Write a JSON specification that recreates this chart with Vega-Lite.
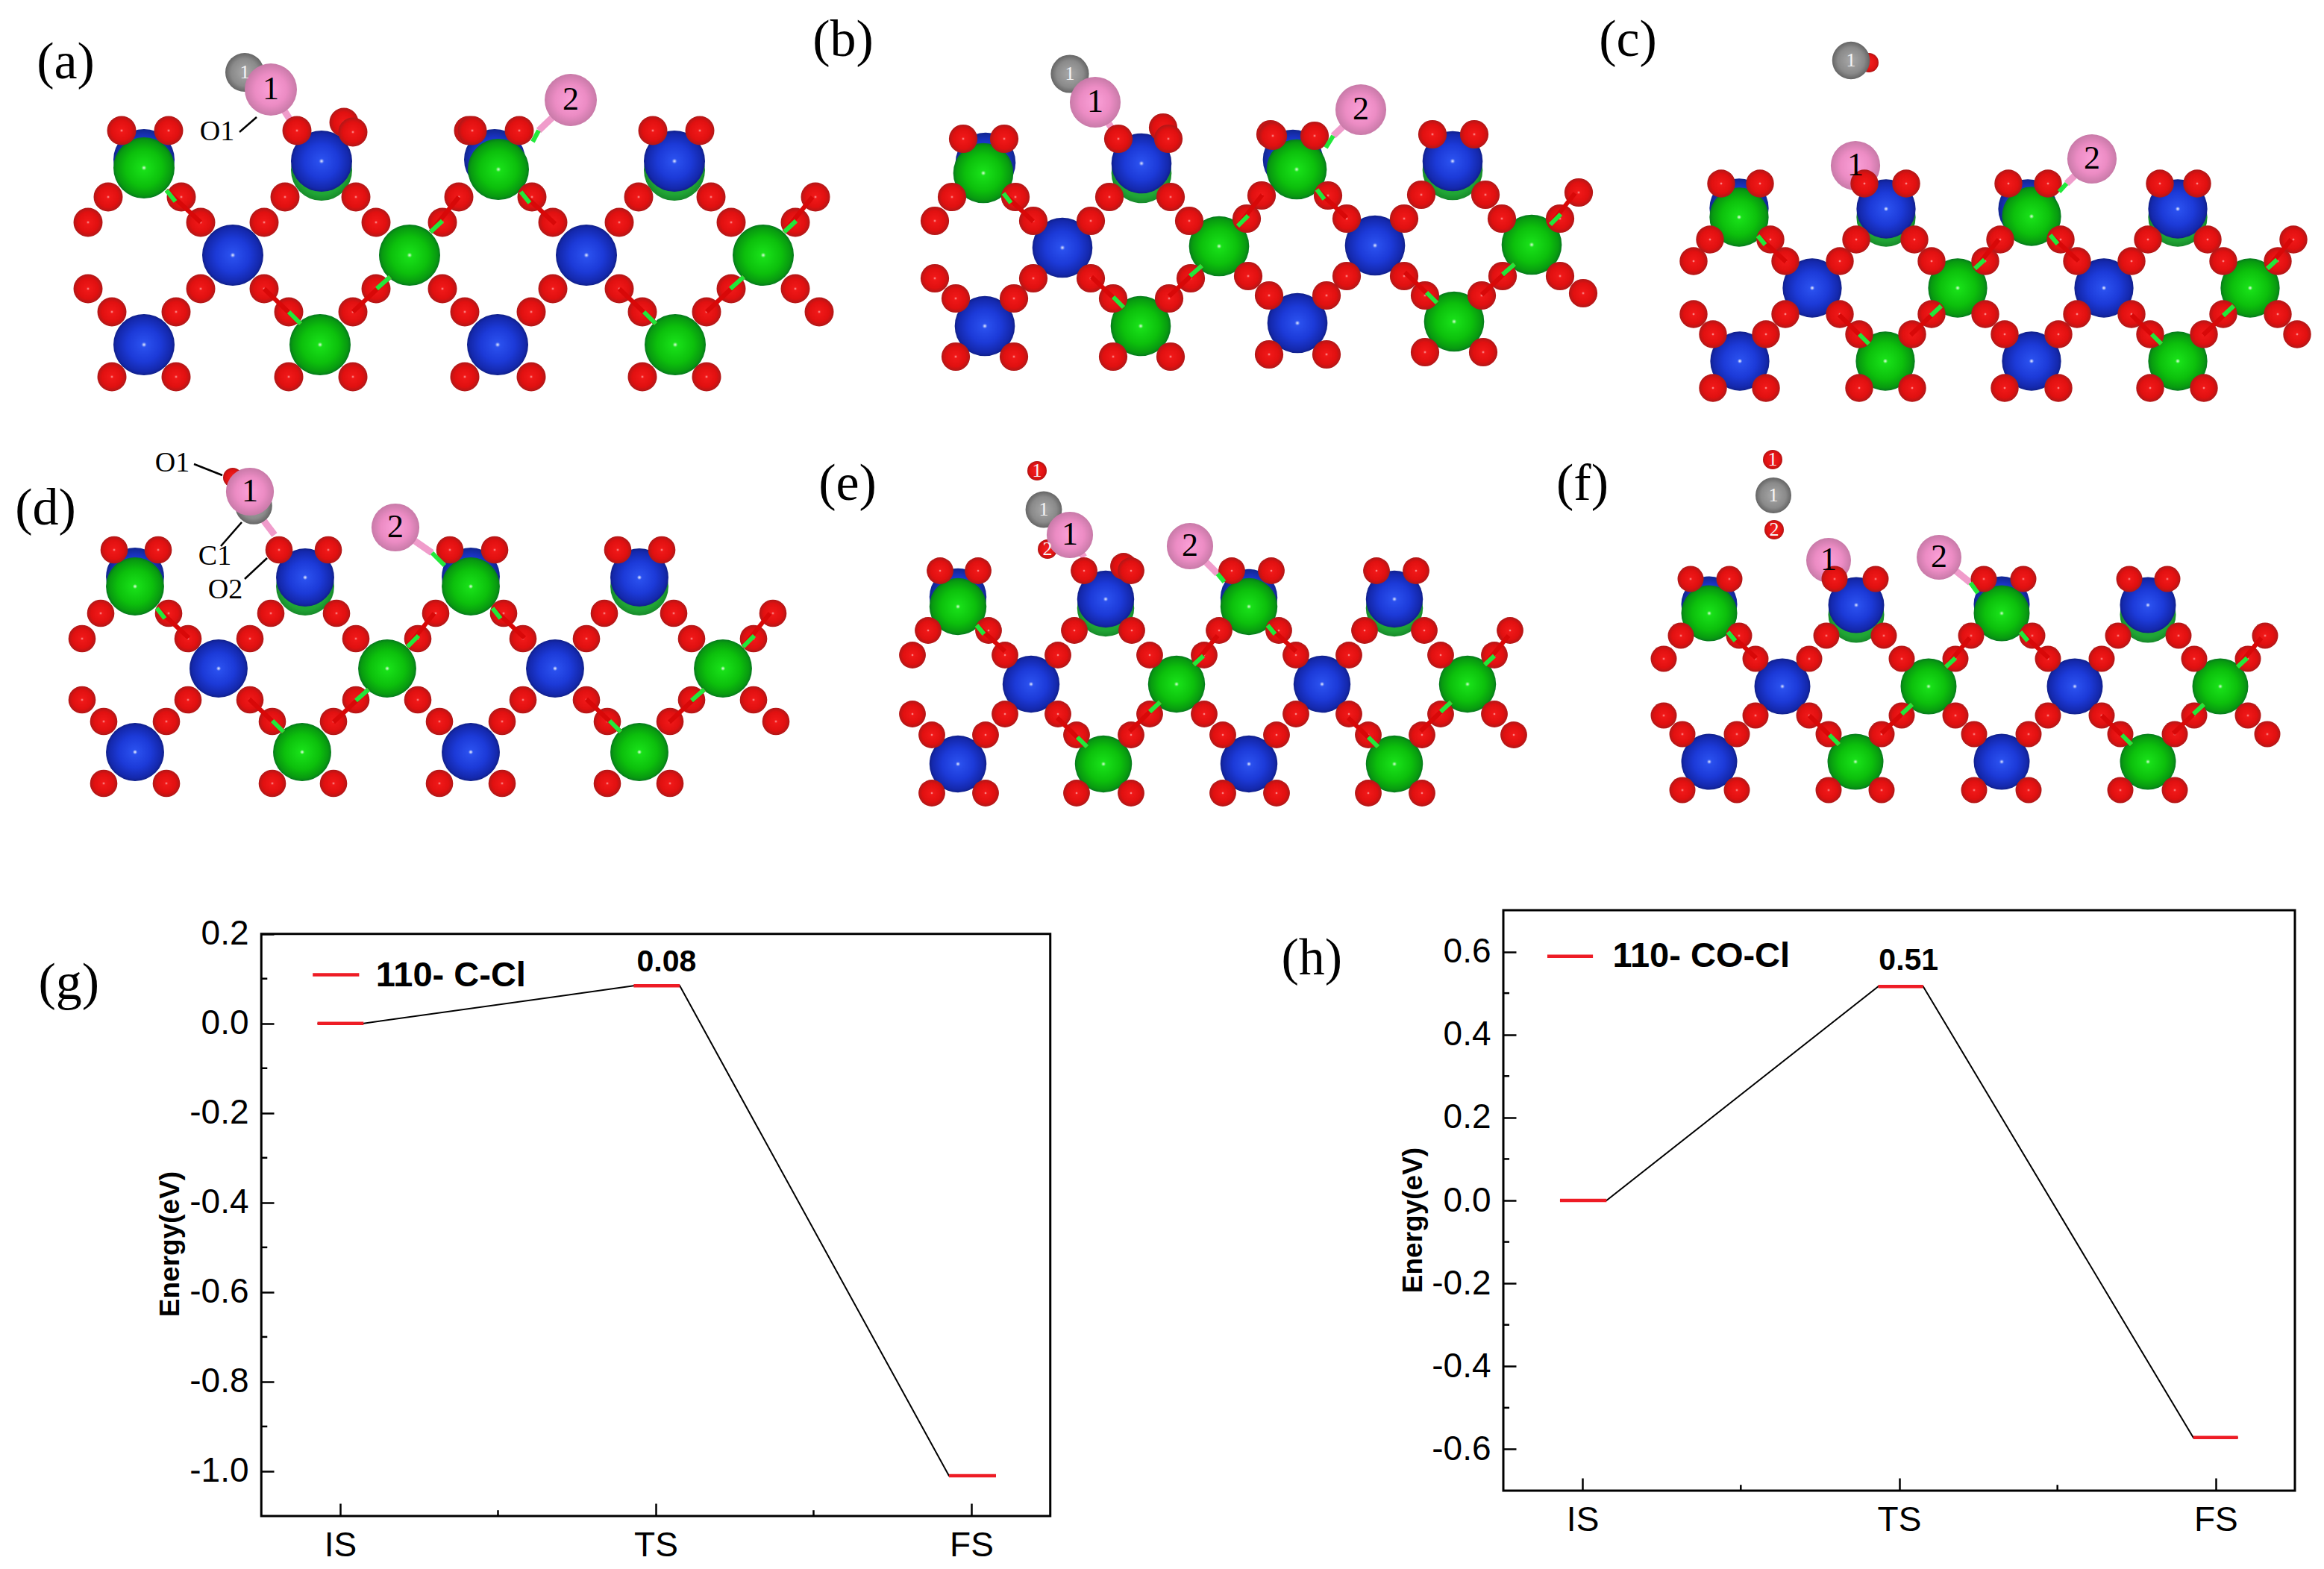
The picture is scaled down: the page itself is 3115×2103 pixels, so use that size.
{
"$schema":"https://vega.github.io/schema/vega-lite/v6.json",
"description":"Adsorption structures (a)-(f) and reaction energy profiles (g), (h).",
"padding":0,
"background":"white",
"bounds":"flush",
"columns":2,
"spacing":{"row":0,"column":606},
"config":{"view":{"stroke":null}},
"datasets":{
"metals":[
{"p":"a","k":"blueBack","x":193,"y":214},{"p":"a","k":"blueBack","x":663,"y":214},{"p":"a","k":"greenBack","x":431,"y":228},{"p":"a","k":"greenBack","x":904,"y":228},
{"p":"a","k":"blue","x":193,"y":462},{"p":"a","k":"blue","x":667,"y":462},{"p":"a","k":"blue","x":312,"y":342},{"p":"a","k":"blue","x":786,"y":342},{"p":"a","k":"blue","x":431,"y":216},{"p":"a","k":"blue","x":904,"y":216},
{"p":"a","k":"green","x":429,"y":462},{"p":"a","k":"green","x":905,"y":462},{"p":"a","k":"green","x":549,"y":342},{"p":"a","k":"green","x":1023,"y":342},{"p":"a","k":"green","x":193,"y":225},{"p":"a","k":"green","x":668,"y":227},
{"p":"b","k":"blueBack","x":1321,"y":218},{"p":"b","k":"blueBack","x":1733,"y":214},{"p":"b","k":"greenBack","x":1530,"y":232},{"p":"b","k":"greenBack","x":1947,"y":228},
{"p":"b","k":"blue","x":1320,"y":437},{"p":"b","k":"blue","x":1739,"y":433},{"p":"b","k":"blue","x":1424,"y":332},{"p":"b","k":"blue","x":1843,"y":329},{"p":"b","k":"blue","x":1530,"y":219},{"p":"b","k":"blue","x":1947,"y":216},
{"p":"b","k":"green","x":1529,"y":437},{"p":"b","k":"green","x":1949,"y":431},{"p":"b","k":"green","x":1634,"y":330},{"p":"b","k":"green","x":2053,"y":328},{"p":"b","k":"green","x":1318,"y":232},{"p":"b","k":"green","x":1738,"y":227},
{"p":"c","k":"blueBack","x":2331,"y":279},{"p":"c","k":"blueBack","x":2718,"y":280},{"p":"c","k":"greenBack","x":2528,"y":291},{"p":"c","k":"greenBack","x":2919,"y":291},
{"p":"c","k":"blue","x":2332,"y":484},{"p":"c","k":"blue","x":2723,"y":484},{"p":"c","k":"blue","x":2429,"y":386},{"p":"c","k":"blue","x":2820,"y":386},{"p":"c","k":"blue","x":2528,"y":280},{"p":"c","k":"blue","x":2919,"y":280},
{"p":"c","k":"green","x":2527,"y":484},{"p":"c","k":"green","x":2919,"y":484},{"p":"c","k":"green","x":2624,"y":386},{"p":"c","k":"green","x":3016,"y":386},{"p":"c","k":"green","x":2331,"y":291},{"p":"c","k":"green","x":2723,"y":290},
{"p":"d","k":"blueBack","x":181,"y":773},{"p":"d","k":"blueBack","x":631,"y":773},{"p":"d","k":"greenBack","x":409,"y":786},{"p":"d","k":"greenBack","x":857,"y":786},
{"p":"d","k":"blue","x":181,"y":1008},{"p":"d","k":"blue","x":631,"y":1008},{"p":"d","k":"blue","x":293,"y":896},{"p":"d","k":"blue","x":744,"y":896},{"p":"d","k":"blue","x":409,"y":774},{"p":"d","k":"blue","x":857,"y":774},
{"p":"d","k":"green","x":405,"y":1008},{"p":"d","k":"green","x":857,"y":1008},{"p":"d","k":"green","x":519,"y":896},{"p":"d","k":"green","x":969,"y":896},{"p":"d","k":"green","x":181,"y":786},{"p":"d","k":"green","x":631,"y":786},
{"p":"e","k":"blueBack","x":1284,"y":800},{"p":"e","k":"blueBack","x":1674,"y":801},{"p":"e","k":"greenBack","x":1482,"y":815},{"p":"e","k":"greenBack","x":1869,"y":815},
{"p":"e","k":"blue","x":1284,"y":1024},{"p":"e","k":"blue","x":1674,"y":1024},{"p":"e","k":"blue","x":1382,"y":917},{"p":"e","k":"blue","x":1772,"y":917},{"p":"e","k":"blue","x":1482,"y":803},{"p":"e","k":"blue","x":1869,"y":803},
{"p":"e","k":"green","x":1479,"y":1024},{"p":"e","k":"green","x":1869,"y":1024},{"p":"e","k":"green","x":1577,"y":917},{"p":"e","k":"green","x":1967,"y":917},{"p":"e","k":"green","x":1284,"y":813},{"p":"e","k":"green","x":1674,"y":813},
{"p":"f","k":"blueBack","x":2291,"y":810},{"p":"f","k":"blueBack","x":2683,"y":810},{"p":"f","k":"greenBack","x":2488,"y":824},{"p":"f","k":"greenBack","x":2879,"y":824},
{"p":"f","k":"blue","x":2291,"y":1021},{"p":"f","k":"blue","x":2683,"y":1021},{"p":"f","k":"blue","x":2389,"y":920},{"p":"f","k":"blue","x":2781,"y":920},{"p":"f","k":"blue","x":2488,"y":811},{"p":"f","k":"blue","x":2879,"y":811},
{"p":"f","k":"green","x":2487,"y":1021},{"p":"f","k":"green","x":2879,"y":1021},{"p":"f","k":"green","x":2585,"y":920},{"p":"f","k":"green","x":2976,"y":920},{"p":"f","k":"green","x":2291,"y":822},{"p":"f","k":"green","x":2683,"y":822}
],
"adsorbates":[
{"p":"a","k":"gray","x":328,"y":97,"label":"1"},{"p":"a","k":"pink","x":363,"y":120,"label":"1"},{"p":"a","k":"pink","x":765,"y":134,"label":"2"},
{"p":"b","k":"gray","x":1434,"y":99,"label":"1"},{"p":"b","k":"pink","x":1468,"y":137,"label":"1"},{"p":"b","k":"pink","x":1824,"y":147,"label":"2"},
{"p":"c","k":"ads","x":2505,"y":84},{"p":"c","k":"gray","x":2481,"y":81,"label":"1"},{"p":"c","k":"pink","x":2487,"y":222,"label":"1"},{"p":"c","k":"pink","x":2804,"y":213,"label":"2"},
{"p":"d","k":"ads","x":312,"y":640},{"p":"d","k":"gray","x":340,"y":678},{"p":"d","k":"pink","x":335,"y":659,"label":"1"},{"p":"d","k":"pink","x":530,"y":707,"label":"2"},
{"p":"e","k":"ads","x":1390,"y":631,"label":"1"},{"p":"e","k":"ads","x":1404,"y":736,"label":"2"},{"p":"e","k":"gray","x":1399,"y":683,"label":"1"},{"p":"e","k":"pink","x":1434,"y":717,"label":"1"},{"p":"e","k":"pink","x":1595,"y":732,"label":"2"},
{"p":"f","k":"ads","x":2376,"y":616,"label":"1"},{"p":"f","k":"ads","x":2378,"y":710,"label":"2"},{"p":"f","k":"gray","x":2377,"y":664,"label":"1"},{"p":"f","k":"pink","x":2451,"y":751,"label":"1"},{"p":"f","k":"pink","x":2599,"y":747,"label":"2"}
],
"oxygens":[
{"p":"a","x":163,"y":175},{"p":"a","x":226,"y":175},{"p":"a","x":398,"y":175},{"p":"a","x":461,"y":164},{"p":"a","x":473,"y":177},{"p":"a","x":628,"y":175},{"p":"a","x":633,"y":175},{"p":"a","x":696,"y":175},{"p":"a","x":875,"y":175},{"p":"a","x":938,"y":175},
{"p":"a","x":145,"y":264},{"p":"a","x":243,"y":264},{"p":"a","x":382,"y":264},{"p":"a","x":477,"y":264},{"p":"a","x":615,"y":264},{"p":"a","x":713,"y":264},{"p":"a","x":856,"y":264},{"p":"a","x":953,"y":264},{"p":"a","x":1093,"y":264},
{"p":"a","x":118,"y":298},{"p":"a","x":269,"y":298},{"p":"a","x":354,"y":298},{"p":"a","x":504,"y":298},{"p":"a","x":593,"y":298},{"p":"a","x":741,"y":298},{"p":"a","x":830,"y":298},{"p":"a","x":980,"y":298},{"p":"a","x":1066,"y":298},
{"p":"a","x":118,"y":387},{"p":"a","x":269,"y":387},{"p":"a","x":354,"y":387},{"p":"a","x":504,"y":387},{"p":"a","x":593,"y":387},{"p":"a","x":741,"y":387},{"p":"a","x":830,"y":387},{"p":"a","x":980,"y":387},{"p":"a","x":1066,"y":387},
{"p":"a","x":150,"y":418},{"p":"a","x":236,"y":418},{"p":"a","x":387,"y":418},{"p":"a","x":473,"y":418},{"p":"a","x":623,"y":418},{"p":"a","x":712,"y":418},{"p":"a","x":861,"y":418},{"p":"a","x":947,"y":418},{"p":"a","x":1098,"y":418},
{"p":"a","x":150,"y":505},{"p":"a","x":236,"y":505},{"p":"a","x":387,"y":505},{"p":"a","x":473,"y":505},{"p":"a","x":623,"y":505},{"p":"a","x":712,"y":505},{"p":"a","x":861,"y":505},{"p":"a","x":947,"y":505},
{"p":"b","x":1291,"y":186},{"p":"b","x":1346,"y":186},{"p":"b","x":1499,"y":186},{"p":"b","x":1559,"y":171},{"p":"b","x":1566,"y":186},{"p":"b","x":1703,"y":180},{"p":"b","x":1706,"y":182},{"p":"b","x":1762,"y":182},{"p":"b","x":1920,"y":180},{"p":"b","x":1976,"y":180},
{"p":"b","x":1276,"y":264},{"p":"b","x":1361,"y":264},{"p":"b","x":1487,"y":264},{"p":"b","x":1569,"y":264},{"p":"b","x":1691,"y":262},{"p":"b","x":1780,"y":262},{"p":"b","x":1905,"y":261},{"p":"b","x":1991,"y":261},{"p":"b","x":2116,"y":258},
{"p":"b","x":1253,"y":296},{"p":"b","x":1385,"y":296},{"p":"b","x":1462,"y":296},{"p":"b","x":1594,"y":296},{"p":"b","x":1671,"y":293},{"p":"b","x":1805,"y":293},{"p":"b","x":1882,"y":293},{"p":"b","x":2013,"y":293},{"p":"b","x":2091,"y":293},
{"p":"b","x":1253,"y":373},{"p":"b","x":1385,"y":373},{"p":"b","x":1462,"y":373},{"p":"b","x":1596,"y":373},{"p":"b","x":1673,"y":370},{"p":"b","x":1805,"y":370},{"p":"b","x":1882,"y":370},{"p":"b","x":2014,"y":370},{"p":"b","x":2091,"y":370},
{"p":"b","x":1281,"y":400},{"p":"b","x":1359,"y":400},{"p":"b","x":1492,"y":400},{"p":"b","x":1567,"y":400},{"p":"b","x":1701,"y":396},{"p":"b","x":1778,"y":396},{"p":"b","x":1910,"y":396},{"p":"b","x":1986,"y":396},{"p":"b","x":2122,"y":393},
{"p":"b","x":1281,"y":478},{"p":"b","x":1359,"y":478},{"p":"b","x":1492,"y":478},{"p":"b","x":1569,"y":478},{"p":"b","x":1701,"y":475},{"p":"b","x":1778,"y":475},{"p":"b","x":1910,"y":472},{"p":"b","x":1988,"y":472},
{"p":"c","x":2307,"y":246},{"p":"c","x":2359,"y":246},{"p":"c","x":2499,"y":246},{"p":"c","x":2555,"y":246},{"p":"c","x":2692,"y":246},{"p":"c","x":2745,"y":246},{"p":"c","x":2895,"y":246},{"p":"c","x":2945,"y":246},
{"p":"c","x":2292,"y":321},{"p":"c","x":2373,"y":321},{"p":"c","x":2488,"y":321},{"p":"c","x":2566,"y":321},{"p":"c","x":2681,"y":321},{"p":"c","x":2762,"y":321},{"p":"c","x":2879,"y":321},{"p":"c","x":2959,"y":321},{"p":"c","x":3074,"y":321},
{"p":"c","x":2270,"y":350},{"p":"c","x":2393,"y":350},{"p":"c","x":2466,"y":350},{"p":"c","x":2589,"y":350},{"p":"c","x":2661,"y":350},{"p":"c","x":2784,"y":350},{"p":"c","x":2857,"y":350},{"p":"c","x":2980,"y":350},{"p":"c","x":3053,"y":350},
{"p":"c","x":2270,"y":421},{"p":"c","x":2393,"y":421},{"p":"c","x":2466,"y":421},{"p":"c","x":2589,"y":421},{"p":"c","x":2661,"y":421},{"p":"c","x":2784,"y":421},{"p":"c","x":2857,"y":421},{"p":"c","x":2980,"y":421},{"p":"c","x":3053,"y":421},
{"p":"c","x":2296,"y":448},{"p":"c","x":2367,"y":448},{"p":"c","x":2492,"y":448},{"p":"c","x":2563,"y":448},{"p":"c","x":2687,"y":448},{"p":"c","x":2759,"y":448},{"p":"c","x":2882,"y":448},{"p":"c","x":2954,"y":448},{"p":"c","x":3079,"y":448},
{"p":"c","x":2296,"y":520},{"p":"c","x":2367,"y":520},{"p":"c","x":2492,"y":520},{"p":"c","x":2563,"y":520},{"p":"c","x":2687,"y":520},{"p":"c","x":2759,"y":520},{"p":"c","x":2882,"y":520},{"p":"c","x":2954,"y":520},
{"p":"d","x":153,"y":737},{"p":"d","x":212,"y":737},{"p":"d","x":374,"y":737},{"p":"d","x":440,"y":737},{"p":"d","x":603,"y":737},{"p":"d","x":663,"y":737},{"p":"d","x":828,"y":737},{"p":"d","x":887,"y":737},
{"p":"d","x":135,"y":822},{"p":"d","x":226,"y":822},{"p":"d","x":363,"y":822},{"p":"d","x":451,"y":822},{"p":"d","x":584,"y":822},{"p":"d","x":675,"y":822},{"p":"d","x":810,"y":822},{"p":"d","x":903,"y":822},{"p":"d","x":1036,"y":822},
{"p":"d","x":110,"y":856},{"p":"d","x":252,"y":856},{"p":"d","x":335,"y":856},{"p":"d","x":477,"y":856},{"p":"d","x":560,"y":856},{"p":"d","x":701,"y":856},{"p":"d","x":786,"y":856},{"p":"d","x":927,"y":856},{"p":"d","x":1010,"y":856},
{"p":"d","x":110,"y":938},{"p":"d","x":252,"y":938},{"p":"d","x":335,"y":938},{"p":"d","x":477,"y":938},{"p":"d","x":560,"y":938},{"p":"d","x":701,"y":938},{"p":"d","x":786,"y":938},{"p":"d","x":927,"y":938},{"p":"d","x":1010,"y":938},
{"p":"d","x":139,"y":967},{"p":"d","x":223,"y":967},{"p":"d","x":365,"y":967},{"p":"d","x":447,"y":967},{"p":"d","x":589,"y":967},{"p":"d","x":673,"y":967},{"p":"d","x":814,"y":967},{"p":"d","x":898,"y":967},{"p":"d","x":1040,"y":967},
{"p":"d","x":139,"y":1050},{"p":"d","x":223,"y":1050},{"p":"d","x":365,"y":1050},{"p":"d","x":447,"y":1050},{"p":"d","x":589,"y":1050},{"p":"d","x":673,"y":1050},{"p":"d","x":814,"y":1050},{"p":"d","x":898,"y":1050},
{"p":"e","x":1260,"y":765},{"p":"e","x":1311,"y":765},{"p":"e","x":1453,"y":765},{"p":"e","x":1506,"y":759},{"p":"e","x":1516,"y":765},{"p":"e","x":1651,"y":765},{"p":"e","x":1704,"y":765},{"p":"e","x":1845,"y":765},{"p":"e","x":1898,"y":765},
{"p":"e","x":1244,"y":845},{"p":"e","x":1325,"y":845},{"p":"e","x":1440,"y":845},{"p":"e","x":1517,"y":845},{"p":"e","x":1634,"y":845},{"p":"e","x":1714,"y":845},{"p":"e","x":1829,"y":845},{"p":"e","x":1909,"y":845},{"p":"e","x":2024,"y":845},
{"p":"e","x":1223,"y":878},{"p":"e","x":1347,"y":878},{"p":"e","x":1418,"y":878},{"p":"e","x":1541,"y":878},{"p":"e","x":1614,"y":878},{"p":"e","x":1737,"y":878},{"p":"e","x":1808,"y":878},{"p":"e","x":1931,"y":878},{"p":"e","x":2003,"y":878},
{"p":"e","x":1223,"y":957},{"p":"e","x":1347,"y":957},{"p":"e","x":1418,"y":957},{"p":"e","x":1541,"y":957},{"p":"e","x":1614,"y":957},{"p":"e","x":1737,"y":957},{"p":"e","x":1808,"y":957},{"p":"e","x":1931,"y":957},{"p":"e","x":2003,"y":957},
{"p":"e","x":1249,"y":985},{"p":"e","x":1321,"y":985},{"p":"e","x":1443,"y":985},{"p":"e","x":1516,"y":985},{"p":"e","x":1639,"y":985},{"p":"e","x":1711,"y":985},{"p":"e","x":1834,"y":985},{"p":"e","x":1906,"y":985},{"p":"e","x":2029,"y":985},
{"p":"e","x":1249,"y":1063},{"p":"e","x":1321,"y":1063},{"p":"e","x":1443,"y":1063},{"p":"e","x":1516,"y":1063},{"p":"e","x":1639,"y":1063},{"p":"e","x":1711,"y":1063},{"p":"e","x":1834,"y":1063},{"p":"e","x":1906,"y":1063},
{"p":"f","x":2266,"y":776},{"p":"f","x":2318,"y":776},{"p":"f","x":2459,"y":776},{"p":"f","x":2514,"y":776},{"p":"f","x":2659,"y":776},{"p":"f","x":2712,"y":776},{"p":"f","x":2854,"y":776},{"p":"f","x":2905,"y":776},
{"p":"f","x":2253,"y":852},{"p":"f","x":2331,"y":852},{"p":"f","x":2448,"y":852},{"p":"f","x":2525,"y":852},{"p":"f","x":2642,"y":852},{"p":"f","x":2724,"y":852},{"p":"f","x":2839,"y":852},{"p":"f","x":2920,"y":852},{"p":"f","x":3036,"y":852},
{"p":"f","x":2230,"y":883},{"p":"f","x":2353,"y":883},{"p":"f","x":2425,"y":883},{"p":"f","x":2549,"y":883},{"p":"f","x":2621,"y":883},{"p":"f","x":2745,"y":883},{"p":"f","x":2817,"y":883},{"p":"f","x":2941,"y":883},{"p":"f","x":3013,"y":883},
{"p":"f","x":2230,"y":959},{"p":"f","x":2353,"y":959},{"p":"f","x":2425,"y":959},{"p":"f","x":2549,"y":959},{"p":"f","x":2621,"y":959},{"p":"f","x":2745,"y":959},{"p":"f","x":2817,"y":959},{"p":"f","x":2941,"y":959},{"p":"f","x":3013,"y":959},
{"p":"f","x":2255,"y":984},{"p":"f","x":2328,"y":984},{"p":"f","x":2451,"y":984},{"p":"f","x":2522,"y":984},{"p":"f","x":2646,"y":984},{"p":"f","x":2719,"y":984},{"p":"f","x":2842,"y":984},{"p":"f","x":2915,"y":984},{"p":"f","x":3039,"y":984},
{"p":"f","x":2255,"y":1059},{"p":"f","x":2328,"y":1059},{"p":"f","x":2451,"y":1059},{"p":"f","x":2522,"y":1059},{"p":"f","x":2646,"y":1059},{"p":"f","x":2719,"y":1059},{"p":"f","x":2842,"y":1059},{"p":"f","x":2915,"y":1059}
],
"bonds":[
{"k":"pink","x":363,"y":120,"x2":398,"y2":175},{"k":"pink","x":765,"y":134,"x2":722,"y2":175},{"k":"pink","x":1468,"y":137,"x2":1499,"y2":186},{"k":"pink","x":1824,"y":147,"x2":1787,"y2":182},{"k":"pink","x":2804,"y":213,"x2":2770,"y2":246},{"k":"pink","x":340,"y":680,"x2":368,"y2":717},{"k":"pink","x":530,"y":707,"x2":579,"y2":741},{"k":"pink","x":1434,"y":717,"x2":1453,"y2":747},{"k":"pink","x":1595,"y":732,"x2":1632,"y2":769},{"k":"pink","x":2599,"y":747,"x2":2641,"y2":781},
{"k":"lime","x":722,"y":175,"x2":714,"y2":190},{"k":"lime","x":1787,"y":182,"x2":1777,"y2":198},{"k":"lime","x":2770,"y":246,"x2":2760,"y2":257},{"k":"lime","x":579,"y":741,"x2":596,"y2":758},{"k":"lime","x":1632,"y":769,"x2":1641,"y2":780},{"k":"lime","x":2641,"y":781,"x2":2651,"y2":795},
{"k":"o","x":223,"y":255,"x2":269,"y2":298},{"k":"lime","x":223,"y":255,"x2":235,"y2":270},{"k":"o","x":698,"y":257,"x2":744,"y2":300},{"k":"lime","x":698,"y":257,"x2":710,"y2":272},{"k":"o","x":577,"y":311,"x2":615,"y2":264},{"k":"lime","x":577,"y":311,"x2":593,"y2":296},{"k":"o","x":523,"y":371,"x2":473,"y2":418},{"k":"lime","x":523,"y":371,"x2":505,"y2":387},{"k":"o","x":1051,"y":311,"x2":1089,"y2":264},{"k":"lime","x":1051,"y":311,"x2":1067,"y2":296},{"k":"o","x":997,"y":371,"x2":947,"y2":418},{"k":"lime","x":997,"y":371,"x2":979,"y2":387},{"k":"o","x":403,"y":434,"x2":354,"y2":387},{"k":"lime","x":403,"y":434,"x2":387,"y2":418},{"k":"o","x":879,"y":434,"x2":830,"y2":387},{"k":"lime","x":879,"y":434,"x2":863,"y2":418},
{"k":"o","x":1345,"y":259,"x2":1385,"y2":297},{"k":"lime","x":1345,"y":259,"x2":1355,"y2":272},{"k":"o","x":1765,"y":254,"x2":1805,"y2":292},{"k":"lime","x":1765,"y":254,"x2":1775,"y2":267},{"k":"o","x":1659,"y":303,"x2":1692,"y2":261},{"k":"lime","x":1659,"y":303,"x2":1673,"y2":289},{"k":"o","x":1611,"y":356,"x2":1567,"y2":397},{"k":"lime","x":1611,"y":356,"x2":1595,"y2":370},{"k":"o","x":2078,"y":301,"x2":2111,"y2":259},{"k":"lime","x":2078,"y":301,"x2":2092,"y2":287},{"k":"o","x":2030,"y":354,"x2":1986,"y2":395},{"k":"lime","x":2030,"y":354,"x2":2014,"y2":368},{"k":"o","x":1506,"y":412,"x2":1463,"y2":371},{"k":"lime","x":1506,"y":412,"x2":1492,"y2":398},{"k":"o","x":1926,"y":406,"x2":1883,"y2":365},{"k":"lime","x":1926,"y":406,"x2":1912,"y2":392},
{"k":"o","x":2356,"y":316,"x2":2394,"y2":351},{"k":"lime","x":2356,"y":316,"x2":2366,"y2":328},{"k":"o","x":2748,"y":315,"x2":2786,"y2":350},{"k":"lime","x":2748,"y":315,"x2":2758,"y2":327},{"k":"o","x":2647,"y":360,"x2":2679,"y2":321},{"k":"lime","x":2647,"y":360,"x2":2660,"y2":348},{"k":"o","x":2602,"y":410,"x2":2561,"y2":449},{"k":"lime","x":2602,"y":410,"x2":2588,"y2":423},{"k":"o","x":3039,"y":360,"x2":3071,"y2":321},{"k":"lime","x":3039,"y":360,"x2":3052,"y2":348},{"k":"o","x":2994,"y":410,"x2":2953,"y2":449},{"k":"lime","x":2994,"y":410,"x2":2980,"y2":423},{"k":"o","x":2505,"y":461,"x2":2465,"y2":422},{"k":"lime","x":2505,"y":461,"x2":2492,"y2":448},{"k":"o","x":2897,"y":461,"x2":2857,"y2":422},{"k":"lime","x":2897,"y":461,"x2":2884,"y2":448},
{"k":"o","x":210,"y":815,"x2":253,"y2":855},{"k":"lime","x":210,"y":815,"x2":221,"y2":829},{"k":"o","x":660,"y":815,"x2":703,"y2":855},{"k":"lime","x":660,"y":815,"x2":671,"y2":829},{"k":"o","x":546,"y":867,"x2":582,"y2":822},{"k":"lime","x":546,"y":867,"x2":561,"y2":852},{"k":"o","x":494,"y":924,"x2":447,"y2":968},{"k":"lime","x":494,"y":924,"x2":477,"y2":939},{"k":"o","x":996,"y":867,"x2":1032,"y2":822},{"k":"lime","x":996,"y":867,"x2":1011,"y2":852},{"k":"o","x":944,"y":924,"x2":897,"y2":968},{"k":"lime","x":944,"y":924,"x2":927,"y2":939},{"k":"o","x":380,"y":981,"x2":334,"y2":937},{"k":"lime","x":380,"y":981,"x2":365,"y2":966},{"k":"o","x":832,"y":981,"x2":786,"y2":937},{"k":"lime","x":832,"y":981,"x2":817,"y2":966},
{"k":"o","x":1309,"y":838,"x2":1347,"y2":873},{"k":"lime","x":1309,"y":838,"x2":1319,"y2":850},{"k":"o","x":1699,"y":838,"x2":1737,"y2":873},{"k":"lime","x":1699,"y":838,"x2":1709,"y2":850},{"k":"o","x":1600,"y":891,"x2":1632,"y2":852},{"k":"lime","x":1600,"y":891,"x2":1613,"y2":879},{"k":"o","x":1555,"y":941,"x2":1514,"y2":980},{"k":"lime","x":1555,"y":941,"x2":1541,"y2":954},{"k":"o","x":1990,"y":891,"x2":2022,"y2":852},{"k":"lime","x":1990,"y":891,"x2":2003,"y2":879},{"k":"o","x":1945,"y":941,"x2":1904,"y2":980},{"k":"lime","x":1945,"y":941,"x2":1931,"y2":954},{"k":"o","x":1457,"y":1001,"x2":1417,"y2":962},{"k":"lime","x":1457,"y":1001,"x2":1444,"y2":988},{"k":"o","x":1847,"y":1001,"x2":1807,"y2":962},{"k":"lime","x":1847,"y":1001,"x2":1834,"y2":988},
{"k":"o","x":2316,"y":847,"x2":2354,"y2":882},{"k":"lime","x":2316,"y":847,"x2":2326,"y2":859},{"k":"o","x":2708,"y":847,"x2":2746,"y2":882},{"k":"lime","x":2708,"y":847,"x2":2718,"y2":859},{"k":"o","x":2608,"y":894,"x2":2640,"y2":855},{"k":"lime","x":2608,"y":894,"x2":2621,"y2":882},{"k":"o","x":2563,"y":944,"x2":2522,"y2":983},{"k":"lime","x":2563,"y":944,"x2":2549,"y2":957},{"k":"o","x":2999,"y":894,"x2":3031,"y2":855},{"k":"lime","x":2999,"y":894,"x2":3012,"y2":882},{"k":"o","x":2954,"y":944,"x2":2913,"y2":983},{"k":"lime","x":2954,"y":944,"x2":2940,"y2":957},{"k":"o","x":2465,"y":998,"x2":2425,"y2":959},{"k":"lime","x":2465,"y":998,"x2":2452,"y2":985},{"k":"o","x":2857,"y":998,"x2":2817,"y2":959},{"k":"lime","x":2857,"y":998,"x2":2844,"y2":985},
{"k":"lead","x":321,"y":177,"x2":344,"y2":157},{"k":"lead","x":260,"y":622,"x2":298,"y2":637},{"k":"lead","x":296,"y":732,"x2":324,"y2":700},{"k":"lead","x":328,"y":776,"x2":358,"y2":748}
],
"notes":[
{"k":"panel","text":"(a)","x":88,"y":84},{"k":"panel","text":"(b)","x":1130,"y":54},{"k":"panel","text":"(c)","x":2182,"y":54},{"k":"panel","text":"(d)","x":61,"y":682},{"k":"panel","text":"(e)","x":1136,"y":649},{"k":"panel","text":"(f)","x":2121,"y":649},
{"k":"atom","text":"O1","x":291,"y":177},{"k":"atom","text":"O1","x":231,"y":621},{"k":"atom","text":"C1","x":288,"y":746},{"k":"atom","text":"O2","x":302,"y":791}
],
"guidesG":[
{"k":"frame","x":0.75,"x2":3.25,"energy":-1.1,"y2":0.2},
{"k":"tick","x":1.5,"x2":1.5,"energy":-1.1,"y2":-1.087},{"k":"tick","x":2.5,"x2":2.5,"energy":-1.1,"y2":-1.087},
{"k":"tick","x":0.75,"x2":0.769,"energy":-0.9,"y2":-0.9},{"k":"tick","x":0.75,"x2":0.769,"energy":-0.7,"y2":-0.7},{"k":"tick","x":0.75,"x2":0.769,"energy":-0.5,"y2":-0.5},{"k":"tick","x":0.75,"x2":0.769,"energy":-0.3,"y2":-0.3},{"k":"tick","x":0.75,"x2":0.769,"energy":-0.1,"y2":-0.1},{"k":"tick","x":0.75,"x2":0.769,"energy":0.1,"y2":0.1}
],
"guidesH":[
{"k":"frame","x":0.75,"x2":3.25,"energy":-0.7,"y2":0.7},
{"k":"tick","x":1.5,"x2":1.5,"energy":-0.7,"y2":-0.686},{"k":"tick","x":2.5,"x2":2.5,"energy":-0.7,"y2":-0.686},
{"k":"tick","x":0.75,"x2":0.769,"energy":-0.5,"y2":-0.5},{"k":"tick","x":0.75,"x2":0.769,"energy":-0.3,"y2":-0.3},{"k":"tick","x":0.75,"x2":0.769,"energy":-0.1,"y2":-0.1},{"k":"tick","x":0.75,"x2":0.769,"energy":0.1,"y2":0.1},{"k":"tick","x":0.75,"x2":0.769,"energy":0.3,"y2":0.3},{"k":"tick","x":0.75,"x2":0.769,"energy":0.5,"y2":0.5}
],
"pathG":[
{"state":"IS","x":0.928,"energy":0},{"state":"IS","x":1.074,"energy":0},{"state":"TS","x":1.93,"energy":0.084},{"state":"TS","x":2.076,"energy":0.084},{"state":"FS","x":2.929,"energy":-1.01},{"state":"FS","x":3.078,"energy":-1.01},
{"state":"key","x":0.913,"energy":0.1085},{"state":"key","x":1.06,"energy":0.1085}
],
"pathH":[
{"state":"IS","x":0.929,"energy":0},{"state":"IS","x":1.076,"energy":0},{"state":"TS","x":1.934,"energy":0.516},{"state":"TS","x":2.076,"energy":0.516},{"state":"FS","x":2.929,"energy":-0.572},{"state":"FS","x":3.07,"energy":-0.572},
{"state":"key","x":0.889,"energy":0.589},{"state":"key","x":1.033,"energy":0.589}
],
"textG":[{"k":"key","x":1.113,"energy":0.106,"text":"110- C-Cl"},{"k":"value","x":2.034,"energy":0.136,"text":"0.08"},{"k":"panel","x":0.14,"energy":0.0895,"text":"(g)"}],
"textH":[{"k":"key","x":1.095,"energy":0.588,"text":"110- CO-Cl"},{"k":"value","x":2.03,"energy":0.577,"text":"0.51"},{"k":"panel","x":0.145,"energy":0.583,"text":"(h)"}]
},
"concat":[
{
"width":1409,"height":1220,
"view":{"fill":"white"},
"encoding":{
"x":{"field":"x","type":"quantitative","axis":null,"scale":{"domain":[0,1409],"nice":false,"zero":false}},
"y":{"field":"y","type":"quantitative","axis":null,"scale":{"domain":[1220,0],"nice":false,"zero":false}}
},
"resolve":{"scale":{"size":"independent"}},
"layer":[
{"data":{"name":"metals"},"transform":[{"filter":"datum.k=='blueBack'"}],
"mark":{"type":"circle","opacity":1,"fill":{"gradient":"radial","x1":0.5,"y1":0.5,"r1":0,"x2":0.5,"y2":0.5,"r2":0.5,"stops":[{"offset":0,"color":"#2a48e6"},{"offset":0.7,"color":"#1a35c8"},{"offset":1,"color":"#112690"}]}},
"encoding":{"size":{"field":"p","type":"ordinal","legend":null,"scale":{"domain":["a","b","c","d","e","f"],"range":[6724,5625,4624,6241,4900,4761]}}}},
{"data":{"name":"metals"},"transform":[{"filter":"datum.k=='greenBack'"}],
"mark":{"type":"circle","opacity":1,"fill":{"gradient":"radial","x1":0.5,"y1":0.5,"r1":0,"x2":0.5,"y2":0.5,"r2":0.5,"stops":[{"offset":0,"color":"#25c035"},{"offset":0.8,"color":"#20a535"},{"offset":1,"color":"#178a2a"}]}},
"encoding":{"size":{"field":"p","type":"ordinal","legend":null,"scale":{"domain":["a","b","c","d","e","f"],"range":[6724,5625,4624,6241,4900,4761]}}}},
{"data":{"name":"bonds"},"transform":[{"filter":"datum.k=='pink'"}],
"mark":{"type":"rule","color":"#f09ccb","strokeWidth":9},
"encoding":{"x2":{"field":"x2"},"y2":{"field":"y2"}}},
{"data":{"name":"metals"},"transform":[{"filter":"datum.k=='blue'"}],
"mark":{"type":"circle","opacity":1,"fill":{"gradient":"radial","x1":0.5,"y1":0.5,"r1":0,"x2":0.5,"y2":0.5,"r2":0.5,"stops":[{"offset":0,"color":"#f4f8ff"},{"offset":0.08,"color":"#2a50ee"},{"offset":0.55,"color":"#1c3ad8"},{"offset":0.9,"color":"#1428ac"},{"offset":1,"color":"#10208a"}]}},
"encoding":{"size":{"field":"p","type":"ordinal","legend":null,"scale":{"domain":["a","b","c","d","e","f"],"range":[6724,5625,4624,6241,4900,4761]}}}},
{"data":{"name":"metals"},"transform":[{"filter":"datum.k=='green'"}],
"mark":{"type":"circle","opacity":1,"fill":{"gradient":"radial","x1":0.5,"y1":0.5,"r1":0,"x2":0.5,"y2":0.5,"r2":0.5,"stops":[{"offset":0,"color":"#e8ffe8"},{"offset":0.08,"color":"#18e018"},{"offset":0.6,"color":"#0cc00c"},{"offset":0.9,"color":"#089a10"},{"offset":1,"color":"#067a1e"}]}},
"encoding":{"size":{"field":"p","type":"ordinal","legend":null,"scale":{"domain":["a","b","c","d","e","f"],"range":[6724,5625,4624,6241,4900,4761]}}}},
{"data":{"name":"adsorbates"},"transform":[{"filter":"datum.k=='ads'"}],
"mark":{"type":"circle","opacity":1,"fill":{"gradient":"radial","x1":0.5,"y1":0.5,"r1":0,"x2":0.5,"y2":0.5,"r2":0.5,"stops":[{"offset":0,"color":"#f52020"},{"offset":0.75,"color":"#e01212"},{"offset":1,"color":"#b01414"}]}},
"encoding":{"size":{"field":"p","type":"ordinal","legend":null,"scale":{"domain":["c","d","e","f"],"range":[676,676,900,1024]}}}},
{"data":{"name":"adsorbates"},"transform":[{"filter":"datum.k=='gray'"}],
"mark":{"type":"circle","opacity":1,"fill":{"gradient":"radial","x1":0.5,"y1":0.5,"r1":0,"x2":0.5,"y2":0.5,"r2":0.5,"stops":[{"offset":0,"color":"#a8a8a8"},{"offset":0.7,"color":"#8a8a8a"},{"offset":1,"color":"#656565"}]}},
"encoding":{"size":{"field":"p","type":"ordinal","legend":null,"scale":{"domain":["a","b","c","d","e","f"],"range":[2704,2304,2116,2304,2116,2116]}}}},
{"data":{"name":"adsorbates"},"transform":[{"filter":"datum.k=='pink'"}],
"mark":{"type":"circle","opacity":1,"fill":{"gradient":"radial","x1":0.5,"y1":0.5,"r1":0,"x2":0.5,"y2":0.5,"r2":0.5,"stops":[{"offset":0,"color":"#fba0d8"},{"offset":0.6,"color":"#ec8cc4"},{"offset":1,"color":"#c87aa8"}]}},
"encoding":{"size":{"field":"p","type":"ordinal","legend":null,"scale":{"domain":["a","b","c","d","e","f"],"range":[4900,3600,3364,4489,3364,3364]}}}},
{"data":{"name":"oxygens"},
"mark":{"type":"circle","opacity":1,"fill":{"gradient":"radial","x1":0.5,"y1":0.5,"r1":0,"x2":0.5,"y2":0.5,"r2":0.5,"stops":[{"offset":0,"color":"#ffc0c0"},{"offset":0.1,"color":"#f01818"},{"offset":0.7,"color":"#e01010"},{"offset":1,"color":"#b01818"}]}},
"encoding":{"size":{"field":"p","type":"ordinal","legend":null,"scale":{"domain":["a","b","c","d","e","f"],"range":[1521,1225,1024,1296,1089,1089]}}}},
{"data":{"name":"bonds"},"transform":[{"filter":"datum.k=='o'"}],
"mark":{"type":"rule","color":"#d80808","strokeWidth":6},
"encoding":{"x2":{"field":"x2"},"y2":{"field":"y2"}}},
{"data":{"name":"bonds"},"transform":[{"filter":"datum.k=='lime'"}],
"mark":{"type":"rule","color":"#22e83a","strokeWidth":6},
"encoding":{"x2":{"field":"x2"},"y2":{"field":"y2"}}},
{"data":{"name":"bonds"},"transform":[{"filter":"datum.k=='lead'"}],
"mark":{"type":"rule","color":"black","strokeWidth":2.5},
"encoding":{"x2":{"field":"x2"},"y2":{"field":"y2"}}},
{"data":{"name":"adsorbates"},"transform":[{"filter":"datum.k=='pink'"}],
"mark":{"type":"text","font":"Liberation Serif","fontSize":44,"color":"black","align":"center","baseline":"middle"},
"encoding":{"text":{"field":"label"}}},
{"data":{"name":"adsorbates"},"transform":[{"filter":"datum.k!='pink' && datum.label"}],
"mark":{"type":"text","font":"Liberation Serif","fontSize":26,"color":"#f4f4f4","align":"center","baseline":"middle"},
"encoding":{"text":{"field":"label"}}},
{"data":{"name":"notes"},"transform":[{"filter":"datum.k=='panel'"}],
"mark":{"type":"text","font":"Liberation Serif","fontSize":70,"color":"black","align":"center","baseline":"middle"},
"encoding":{"text":{"field":"text"}}},
{"data":{"name":"notes"},"transform":[{"filter":"datum.k=='atom'"}],
"mark":{"type":"text","font":"Liberation Serif","fontSize":38,"color":"black","align":"center","baseline":"middle"},
"encoding":{"text":{"field":"text"}}}
]
},
{"width":1061,"height":1,"data":{"values":[{"v":0}]},"mark":{"type":"rule","opacity":0},"encoding":{"x":{"field":"v","type":"quantitative","axis":null}}},
{
"width":1409,"height":812,
"encoding":{
"x":{"field":"x","type":"quantitative","title":null,"scale":{"domain":[-0.078,3.253],"nice":false,"zero":false},
"axis":{"values":[1,2,3],"labelExpr":"datum.value==1?'IS':datum.value==2?'TS':'FS'","domain":false,"grid":false,"tickSize":-17,"tickWidth":2.5,"tickColor":"black","labelFont":"Liberation Sans","labelFontSize":46,"labelColor":"black","labelPadding":34,"labelAngle":0,"labelFlush":false}},
"y":{"field":"energy","type":"quantitative","scale":{"domain":[-1.1,0.2528],"nice":false,"zero":false},
"axis":{"values":[-1,-0.8,-0.6,-0.4,-0.2,0,0.2],"labelExpr":"datum.value<0?'-'+format(abs(datum.value),'.1f'):format(datum.value,'.1f')","offset":-350,"domain":false,"grid":false,"tickSize":-17,"tickWidth":2.5,"tickColor":"black","labelFont":"Liberation Sans","labelFontSize":46,"labelColor":"black","labelPadding":34,"title":"Energy(eV)","titleFont":"Liberation Sans","titleFontWeight":"bold","titleFontSize":37,"titleColor":"black","titleX":-103,"titleY":447}}
},
"layer":[
{"data":{"name":"guidesG"},"transform":[{"filter":"datum.k=='frame'"}],"mark":{"type":"rect","fillOpacity":0,"stroke":"black","strokeWidth":3},"encoding":{"x2":{"field":"x2"},"y2":{"field":"y2"}}},
{"data":{"name":"guidesG"},"transform":[{"filter":"datum.k=='tick'"}],"mark":{"type":"rule","color":"black","strokeWidth":2.5},"encoding":{"x2":{"field":"x2"},"y2":{"field":"y2"}}},
{"data":{"name":"pathG"},"transform":[{"filter":"datum.state!='key'"}],"mark":{"type":"line","color":"black","strokeWidth":2}},
{"data":{"name":"pathG"},"mark":{"type":"line","color":"#ee1c25","strokeWidth":4.5},"encoding":{"detail":{"field":"state"}}},
{"data":{"name":"textG"},"transform":[{"filter":"datum.k=='key'"}],"mark":{"type":"text","font":"Liberation Sans","fontWeight":"bold","fontSize":47,"align":"left","baseline":"middle","color":"black"},"encoding":{"text":{"field":"text"}}},
{"data":{"name":"textG"},"transform":[{"filter":"datum.k=='value'"}],"mark":{"type":"text","font":"Liberation Sans","fontWeight":"bold","fontSize":41,"align":"center","baseline":"middle","color":"black"},"encoding":{"text":{"field":"text"}}},
{"data":{"name":"textG"},"transform":[{"filter":"datum.k=='panel'"}],"mark":{"type":"text","font":"Liberation Serif","fontSize":70,"align":"center","baseline":"middle","color":"black"},"encoding":{"text":{"field":"text"}}}
]
},
{
"width":1061,"height":778,
"encoding":{
"x":{"field":"x","type":"quantitative","title":null,"scale":{"domain":[0.75,3.25],"nice":false,"zero":false},
"axis":{"values":[1,2,3],"labelExpr":"datum.value==1?'IS':datum.value==2?'TS':'FS'","domain":false,"grid":false,"tickSize":-17,"tickWidth":2.5,"tickColor":"black","labelFont":"Liberation Sans","labelFontSize":46,"labelColor":"black","labelPadding":34,"labelAngle":0,"labelFlush":false}},
"y":{"field":"energy","type":"quantitative","scale":{"domain":[-0.7,0.7],"nice":false,"zero":false},
"axis":{"values":[-0.6,-0.4,-0.2,0,0.2,0.4,0.6],"labelExpr":"datum.value<0?'-'+format(abs(datum.value),'.1f'):format(datum.value,'.1f')","domain":false,"grid":false,"tickSize":-17,"tickWidth":2.5,"tickColor":"black","labelFont":"Liberation Sans","labelFontSize":46,"labelColor":"black","labelPadding":34,"title":"Energy(eV)","titleFont":"Liberation Sans","titleFontWeight":"bold","titleFontSize":37,"titleColor":"black","titleX":-102,"titleY":415}}
},
"layer":[
{"data":{"name":"guidesH"},"transform":[{"filter":"datum.k=='frame'"}],"mark":{"type":"rect","fillOpacity":0,"stroke":"black","strokeWidth":3},"encoding":{"x2":{"field":"x2"},"y2":{"field":"y2"}}},
{"data":{"name":"guidesH"},"transform":[{"filter":"datum.k=='tick'"}],"mark":{"type":"rule","color":"black","strokeWidth":2.5},"encoding":{"x2":{"field":"x2"},"y2":{"field":"y2"}}},
{"data":{"name":"pathH"},"transform":[{"filter":"datum.state!='key'"}],"mark":{"type":"line","color":"black","strokeWidth":2}},
{"data":{"name":"pathH"},"mark":{"type":"line","color":"#ee1c25","strokeWidth":4.5},"encoding":{"detail":{"field":"state"}}},
{"data":{"name":"textH"},"transform":[{"filter":"datum.k=='key'"}],"mark":{"type":"text","font":"Liberation Sans","fontWeight":"bold","fontSize":47,"align":"left","baseline":"middle","color":"black"},"encoding":{"text":{"field":"text"}}},
{"data":{"name":"textH"},"transform":[{"filter":"datum.k=='value'"}],"mark":{"type":"text","font":"Liberation Sans","fontWeight":"bold","fontSize":41,"align":"center","baseline":"middle","color":"black"},"encoding":{"text":{"field":"text"}}},
{"data":{"name":"textH"},"transform":[{"filter":"datum.k=='panel'"}],"mark":{"type":"text","font":"Liberation Serif","fontSize":70,"align":"center","baseline":"middle","color":"black"},"encoding":{"text":{"field":"text"}}}
]
}
]
}
